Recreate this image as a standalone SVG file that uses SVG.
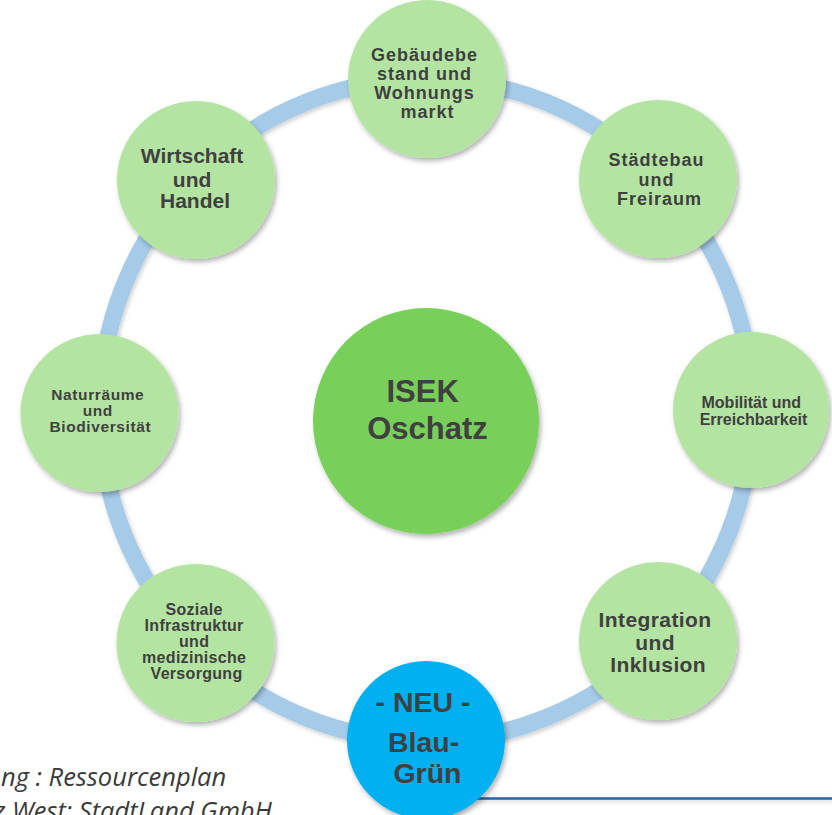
<svg xmlns="http://www.w3.org/2000/svg" width="832" height="815" viewBox="0 0 832 815">
  <defs>
    <filter id="shadow" x="-20%" y="-20%" width="140%" height="140%">
      <feDropShadow dx="2" dy="3" stdDeviation="2.5" flood-color="#000" flood-opacity="0.3"/>
    </filter>
    <filter id="ringShadow" x="-10%" y="-10%" width="120%" height="120%">
      <feDropShadow dx="1.5" dy="2" stdDeviation="2" flood-color="#000" flood-opacity="0.2"/>
    </filter>
  </defs>
  <style>
    .node { fill: #b4e4a1; filter: url(#shadow); }
    .hub { fill: #78d05a; filter: url(#shadow); }
    .new { fill: #00b0f0; filter: url(#shadow); }
    .ring { fill: none; stroke: #a6cbe8; stroke-width: 17; filter: url(#ringShadow); }
    .lbl { font-family: "Liberation Sans", Arial, sans-serif; font-weight: bold; fill: #404040; text-anchor: middle; }
    .note { font-family: "Open Sans", "Liberation Sans", sans-serif; font-style: italic; font-weight: 400; font-size: 25.5px; fill: #3a3a3a; }
    .rule { fill: none; stroke: #2a62a8; stroke-width: 2.5; filter: url(#ringShadow); }
  </style>

  <rect width="832" height="815" fill="#ffffff"/>

  <!-- ring linking the topic circles -->
  <g id="connectors">
    <ellipse class="ring" cx="426" cy="410" rx="326" ry="331"/>
  </g>

  <!-- caption and rule at the bottom -->
  <g id="caption">
    <text class="note" x="1" y="786">ng : Ressourcenplan</text>
    <text class="note" x="-6" y="820">z West: StadtLand GmbH</text>
    <path class="rule" d="M 832 798.5 H 478 Q 472 798.5 468 801 L 450 815"/>
  </g>

  <g id="gebaeudebestand">
    <circle class="node" cx="427" cy="79" r="79"/>
    <text class="lbl" font-size="18" letter-spacing="1">
      <tspan x="427.5" y="61">Gebäudebe</tspan>
      <tspan x="427.5" y="80">stand und</tspan>
      <tspan x="427.5" y="99">Wohnungs</tspan>
      <tspan x="427.5" y="117.5">markt</tspan>
    </text>
  </g>

  <g id="staedtebau">
    <circle class="node" cx="658" cy="179" r="79"/>
    <text class="lbl" font-size="18" letter-spacing="1">
      <tspan x="659.5" y="166">Städtebau</tspan>
      <tspan x="659.5" y="185.5">und</tspan>
      <tspan x="659.5" y="205">Freiraum</tspan>
    </text>
  </g>

  <g id="mobilitaet">
    <circle class="node" cx="751" cy="410" r="78"/>
    <text class="lbl" font-size="16">
      <tspan x="753.5" y="408">Mobilität und</tspan>
      <tspan x="753.5" y="424.5">Erreichbarkeit</tspan>
    </text>
  </g>

  <g id="integration">
    <circle class="node" cx="658" cy="641" r="79"/>
    <text class="lbl" font-size="21" letter-spacing="0.4">
      <tspan x="658.2" y="626.5">Integration</tspan>
      <tspan x="658.2" y="650">und</tspan>
      <tspan x="658.2" y="672">Inklusion</tspan>
    </text>
  </g>

  <g id="blau-gruen">
    <circle class="new" cx="426" cy="740" r="79"/>
    <text class="lbl" font-size="28.5">
      <tspan x="427" y="712">- NEU -</tspan>
      <tspan x="427.5" y="752">Blau-</tspan>
      <tspan x="427.5" y="783">Grün</tspan>
    </text>
  </g>

  <g id="soziale-infrastruktur">
    <circle class="node" cx="195.5" cy="643" r="79"/>
    <text class="lbl" font-size="16" letter-spacing="0.3">
      <tspan x="196.5" y="614.5">Soziale</tspan>
      <tspan x="196.5" y="631">Infrastruktur</tspan>
      <tspan x="196.5" y="647">und</tspan>
      <tspan x="196.5" y="662.5">medizinische</tspan>
      <tspan x="196.5" y="679">Versorgung</tspan>
    </text>
  </g>

  <g id="naturraeume">
    <circle class="node" cx="99.5" cy="413" r="79"/>
    <text class="lbl" font-size="15.5" letter-spacing="0.6">
      <tspan x="100.3" y="400">Naturräume</tspan>
      <tspan x="100.3" y="415.5">und</tspan>
      <tspan x="100.3" y="431.5">Biodiversität</tspan>
    </text>
  </g>

  <g id="wirtschaft">
    <circle class="node" cx="196" cy="180" r="79"/>
    <text class="lbl" font-size="21">
      <tspan x="195" y="163">Wirtschaft</tspan>
      <tspan x="195" y="186.5">und</tspan>
      <tspan x="195" y="208">Handel</tspan>
    </text>
  </g>

  <g id="isek-oschatz">
    <circle class="hub" cx="426" cy="421" r="113"/>
    <text class="lbl" font-size="31">
      <tspan x="427" y="402">ISEK</tspan>
      <tspan x="427.5" y="439">Oschatz</tspan>
    </text>
  </g>
</svg>
